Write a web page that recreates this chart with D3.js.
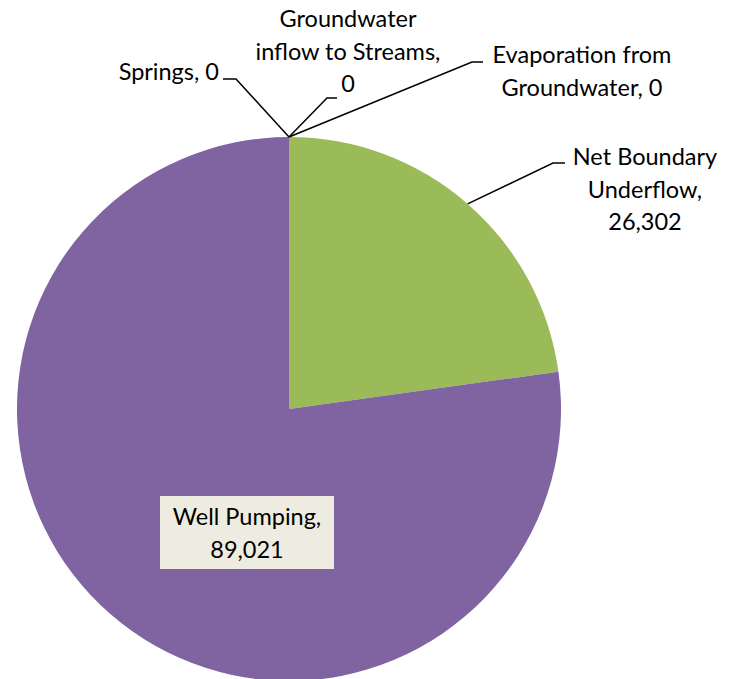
<!DOCTYPE html>
<html>
<head>
<meta charset="utf-8">
<script src="https://cdn.jsdelivr.net/npm/d3@7"></script>
<style>
  html, body { margin: 0; padding: 0; background: #fff; }
  svg { display: block; }
  text { font-family: Lato, "Open Sans", sans-serif; font-size: 23.5px; fill: #000; }
</style>
</head>
<body>
<svg id="chart" width="730" height="679"></svg>
<script>
// Groundwater budget components (acre-feet per year)
const categories = [
  "Net Boundary Underflow",
  "Well Pumping",
  "Springs",
  "Groundwater inflow to Streams",
  "Evaporation from Groundwater"
];
const values = [26302, 89021, 0, 0, 0];
const colors = ["#9BBB59", "#8064A2", "#4BACC6", "#F79646", "#2C4D75"];

// Label text lines for each slice
const labelLines = [
  ["Net Boundary", "Underflow,", "26,302"],
  ["Well Pumping,", "89,021"],
  ["Springs, 0"],
  ["Groundwater", "inflow to Streams,", "0"],
  ["Evaporation from", "Groundwater, 0"]
];

const svg = d3.select("#chart");
const cx = 289, cy = 409, r = 272;

const data = categories.map((c, i) => ({ name: c, value: values[i], color: colors[i], lines: labelLines[i] }));

const pie = d3.pie().sort(null).value(d => d.value);
const arcs = pie(data);
const arc = d3.arc().innerRadius(0).outerRadius(r);

const g = svg.append("g").attr("transform", `translate(${cx},${cy})`);
g.selectAll("path.slice")
  .data(arcs.filter(a => a.data.value > 0))
  .join("path")
  .attr("class", "slice")
  .attr("d", arc)
  .attr("fill", d => d.data.color);

// Label placement: text anchor position, first baseline, and leader elbow (absolute px)
const layout = {
  "Net Boundary Underflow": { x: 645, y: 165, anchor: "middle", elbow: [553, 163], end: [565, 163] },
  "Springs": { x: 219, y: 80, anchor: "end", elbow: [236, 79], end: [223, 79] },
  "Groundwater inflow to Streams": { x: 348, y: 27, anchor: "middle", elbow: [327, 98], end: [337, 98] },
  "Evaporation from Groundwater": { x: 582, y: 63, anchor: "middle", elbow: [472, 62], end: [483, 62] }
};
const lineH = 32.5;

arcs.forEach(a => {
  const L = layout[a.data.name];
  if (!L) return;
  const mid = (a.startAngle + a.endAngle) / 2;
  const p0 = [cx + r * Math.sin(mid), cy - r * Math.cos(mid)];
  svg.append("polyline")
    .attr("points", [p0, L.elbow, L.end].map(p => p.join(",")).join(" "))
    .attr("fill", "none")
    .attr("stroke", "#000")
    .attr("stroke-width", 1.5);
  const t = svg.append("text").attr("text-anchor", L.anchor);
  a.data.lines.forEach((ln, i) => {
    t.append("tspan").attr("x", L.x).attr("y", L.y + i * lineH).text(ln);
  });
});

// Boxed label inside the large slice
const wp = arcs.find(a => a.data.name === "Well Pumping");
const box = { x: 160, y: 496, w: 174, h: 73 };
svg.append("rect")
  .attr("x", box.x).attr("y", box.y)
  .attr("width", box.w).attr("height", box.h)
  .attr("fill", "#EEECE1");
const wt = svg.append("text").attr("text-anchor", "middle");
wp.data.lines.forEach((ln, i) => {
  wt.append("tspan").attr("x", box.x + box.w / 2).attr("y", 525 + i * lineH).text(ln);
});
</script>
</body>
</html>
